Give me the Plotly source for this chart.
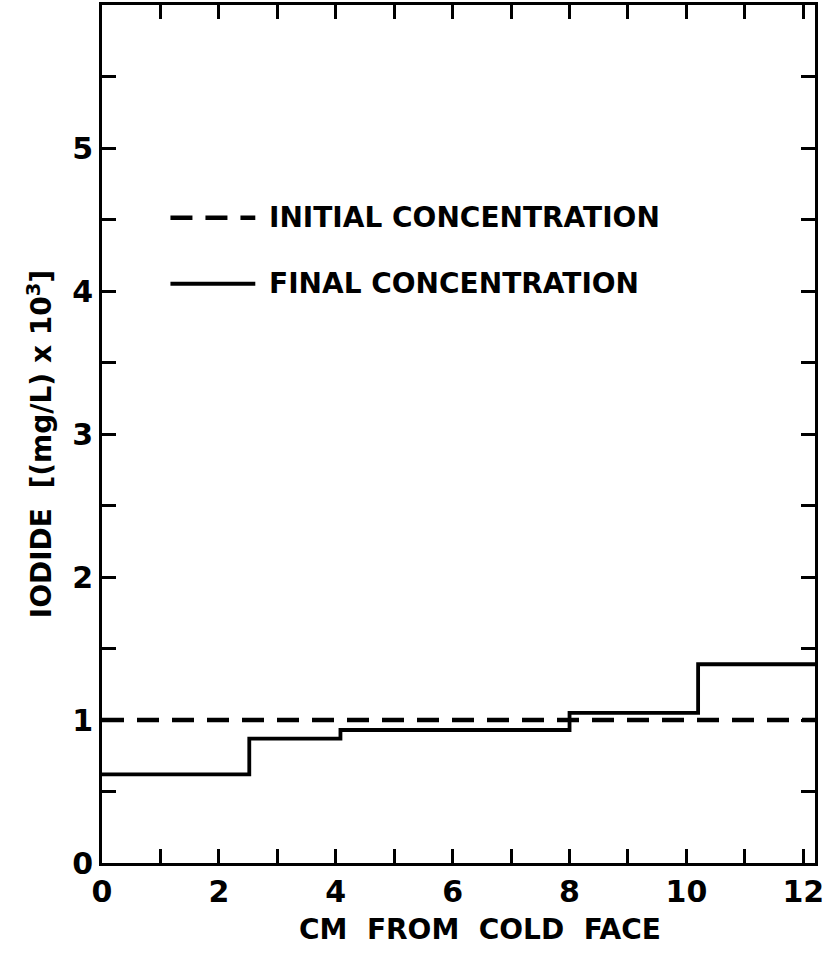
import plotly.graph_objects as go

# Data
step_edges_cm = [0, 2.52, 4.08, 8.0, 10.2, 12.2]
final_conc = [0.62, 0.87, 0.93, 1.05, 1.39]
initial_x = [0, 12.2]
initial_conc = [1.0, 1.0]

x_tickvals = list(range(0, 13))
x_ticktext = [str(v) if v % 2 == 0 else "" for v in x_tickvals]
y_tickvals = [i * 0.5 for i in range(0, 12)]
y_ticktext = [str(int(v)) if v == int(v) else "" for v in y_tickvals]

FONT = "DejaVu Sans"

fig = go.Figure()
fig.add_trace(go.Scatter(
    x=initial_x, y=initial_conc, mode="lines",
    line=dict(color="black", width=4.5, dash="22px,13px"),
    name="INITIAL CONCENTRATION", showlegend=False))
fig.add_trace(go.Scatter(
    x=step_edges_cm, y=final_conc + [final_conc[-1]], mode="lines",
    line=dict(color="black", width=3.8, shape="hv"),
    name="FINAL CONCENTRATION", showlegend=False))

# Hand-drawn style legend inside plot
legend_items = [("INITIAL CONCENTRATION", "22px,13px", 4.5, 0.752),
                ("FINAL CONCENTRATION", "solid", 4, 0.675)]
for label, dash, w, yp in legend_items:
    fig.add_shape(type="line", xref="paper", yref="paper",
                  x0=0.096, x1=0.215, y0=yp, y1=yp,
                  line=dict(color="black", width=w, dash=dash))
    fig.add_annotation(text=label, xref="paper", yref="paper",
                       x=0.232, y=yp, xanchor="left", yanchor="middle",
                       showarrow=False,
                       font=dict(family=FONT, size=28, color="black", weight="bold"))

# Axis titles
fig.add_annotation(text="CM  FROM  COLD  FACE", xref="paper", yref="paper",
                   x=0.53, y=-0.078, xanchor="center", yanchor="middle",
                   showarrow=False,
                   font=dict(family=FONT, size=28, color="black", weight="bold"))
fig.add_annotation(text="IODIDE  [(mg/L) x 10<sup>3</sup>]", xref="paper", yref="paper",
                   x=-0.087, y=0.488, xanchor="center", yanchor="middle",
                   textangle=-90, showarrow=False,
                   font=dict(family=FONT, size=28, color="black", weight="bold"))

axis_common = dict(
    showline=True, linecolor="black", linewidth=3, mirror="ticks",
    ticks="inside", ticklen=14, tickwidth=3, tickcolor="black",
    showgrid=False, zeroline=False,
    tickfont=dict(family=FONT, size=30, color="black", weight="bold"),
)

fig.update_xaxes(range=[0, 12.2], tickmode="array", tickvals=x_tickvals,
                 ticktext=x_ticktext, **axis_common)
fig.update_yaxes(range=[0, 6], tickmode="array", tickvals=y_tickvals,
                 ticktext=y_ticktext, **axis_common)

fig.update_layout(
    width=829, height=959,
    margin=dict(l=102, r=14, t=2, b=96),
    plot_bgcolor="white", paper_bgcolor="white",
    showlegend=False,
)

fig.write_html("out.html")
